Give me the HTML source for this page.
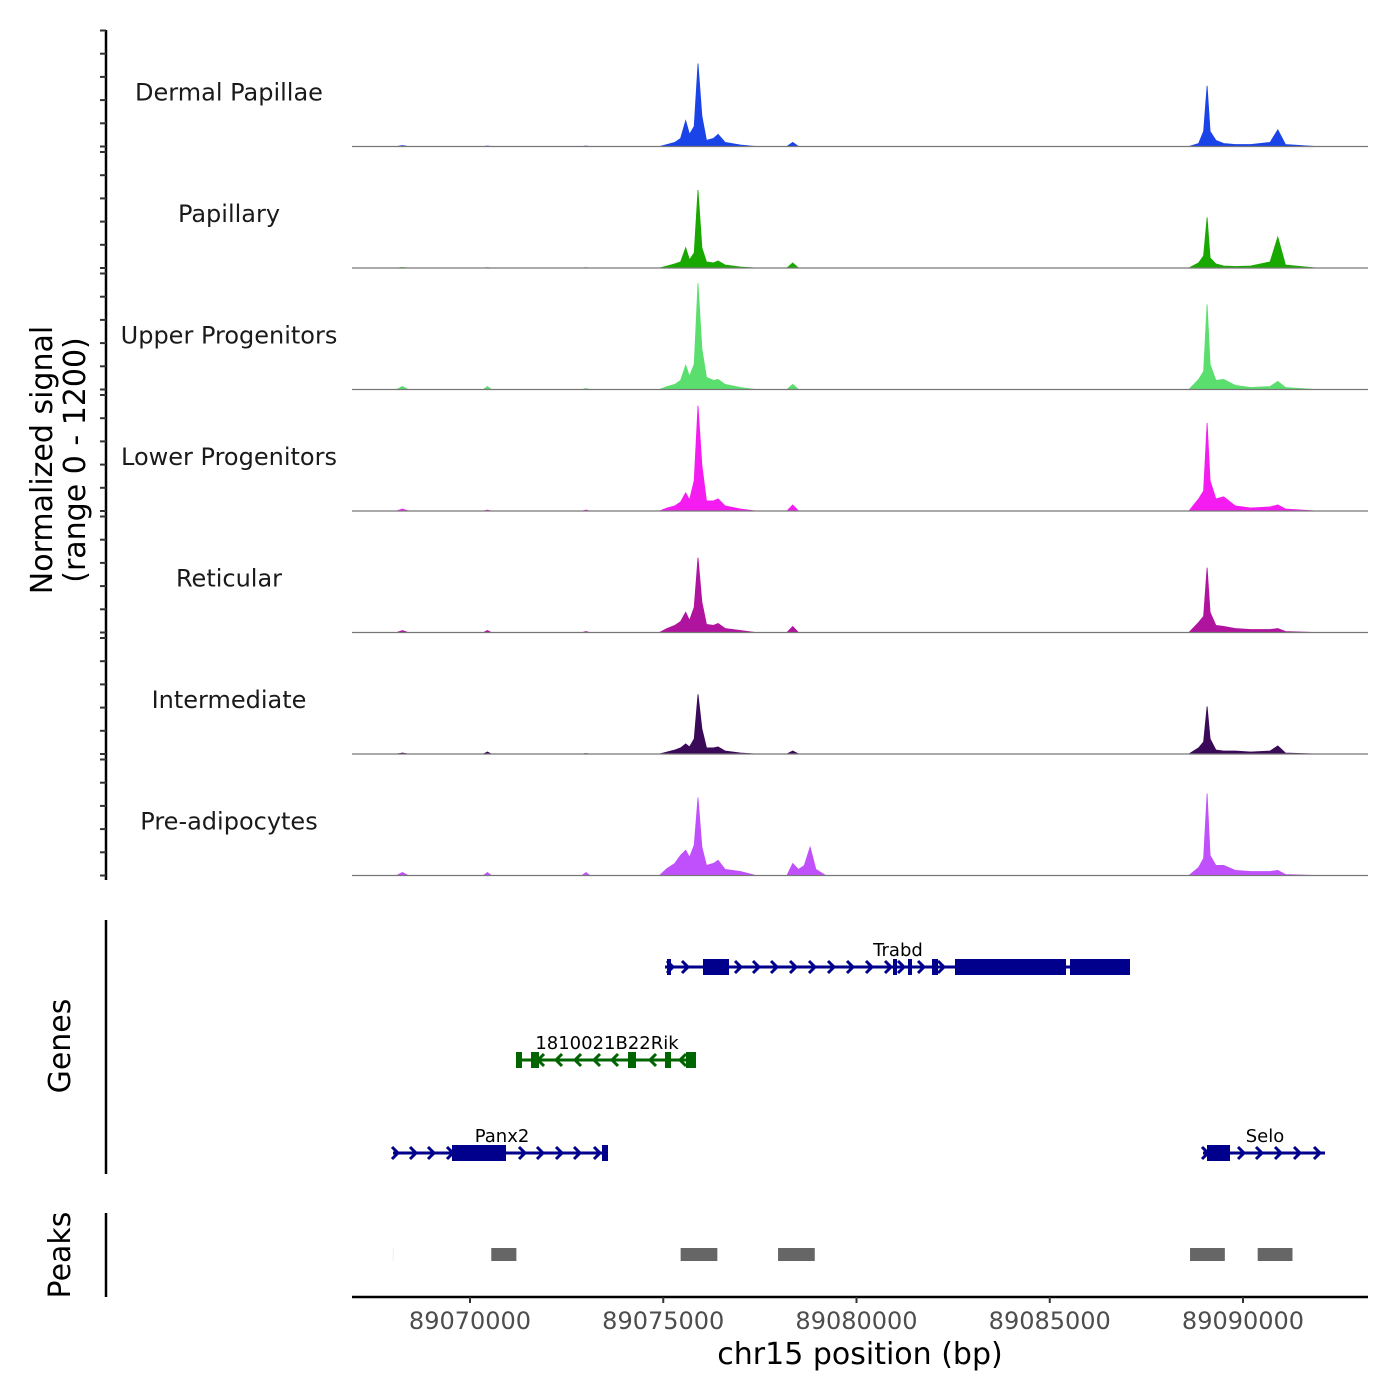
<!DOCTYPE html>
<html><head><meta charset="utf-8"><style>
html,body{margin:0;padding:0;background:#fff;}
svg{display:block;font-family:"DejaVu Sans","Liberation Sans",sans-serif;}
</style></head><body>
<svg id="chart" width="1400" height="1400" viewBox="0 0 1400 1400"></svg>
<script>
// ---- data ----
const trackNames = ["Dermal Papillae","Papillary","Upper Progenitors","Lower Progenitors","Reticular","Intermediate","Pre-adipocytes"];
const trackColors = ["#1a44e8","#18a800","#5ade6e","#f41cf0","#b0149e","#3a0a58","#c050fc"];
// positions in kb offset from 89070000
const binPos = [-1.9,-1.75,-1.6,0.35,0.45,0.55,2.9,3.0,3.1,4.9,5.1,5.3,5.45,5.58,5.68,5.8,5.9,6.0,6.12,6.3,6.42,6.6,7.0,7.4,8.2,8.35,8.5,8.65,8.8,8.95,9.2,18.6,18.85,18.98,19.07,19.15,19.3,19.5,19.8,20.2,20.7,20.9,21.1,21.9];
const sigDermal = [0,10,0,0,5,0,0,5,0,0,20,40,80,255,120,200,820,300,60,80,120,40,15,0,0,40,0,0,0,0,0,0,30,150,600,150,60,30,20,20,40,165,20,0];
const sigPapillary = [0,5,0,0,3,0,0,3,0,0,20,40,60,200,80,150,770,200,60,50,70,30,10,0,0,50,0,0,0,0,0,0,50,120,500,100,40,20,15,20,60,305,30,0];
const sigUpper = [0,30,0,0,30,0,0,10,0,0,30,50,90,240,130,250,1050,400,120,90,100,50,20,0,0,50,0,0,0,0,0,0,100,180,840,250,90,100,40,20,30,80,20,0];
const sigLower = [0,20,0,0,10,0,0,10,0,0,30,50,90,180,110,300,1040,450,100,100,120,50,20,0,0,60,0,0,0,0,0,0,120,200,870,300,120,140,50,30,40,60,20,0];
const sigReticular = [0,20,0,0,20,0,0,10,0,0,40,70,110,200,120,250,740,300,80,70,90,40,20,0,0,60,0,0,0,0,0,0,100,160,640,200,70,60,40,30,30,40,10,0];
const sigIntermediate = [0,10,0,0,20,0,0,5,0,0,20,40,60,100,70,150,590,250,60,60,70,30,10,0,0,30,0,0,0,0,0,0,60,120,470,150,40,30,30,20,30,80,10,0];
const sigPre = [0,30,0,0,30,0,0,30,0,0,70,120,200,250,180,300,770,280,100,120,150,60,40,0,0,120,60,100,280,60,0,0,80,170,810,200,100,100,50,40,40,50,10,0];
const signals = [sigDermal,sigPapillary,sigUpper,sigLower,sigReticular,sigIntermediate,sigPre];
const xTicks = [89070000,89075000,89080000,89085000,89090000];
const peakStarts = [89068000,89070550,89075450,89077970,89088630,89090380];
const peakEnds = [89068020,89071200,89076400,89078920,89089530,89091280];

// ---- scales ----
const NS="http://www.w3.org/2000/svg";
const svg=document.getElementById('chart');
function xs(bp){return 470+(bp-89070000)*0.03865;}
function xk(kb){return xs(89070000+kb*1000);}
const trackH=121.5, firstBase=146.5, yPer=121.5/1200;
function mk(tag,attrs,parent){const e=document.createElementNS(NS,tag);for(const k in attrs)e.setAttribute(k,attrs[k]);(parent||svg).appendChild(e);return e;}

const ax=mk('line',{x1:106,y1:30,x2:106,y2:880,stroke:'#000','stroke-width':2.5});

for(let t=0;t<7;t++){
  const base=firstBase+t*trackH;
  for(let k=0;k<6;k++){
    const y=base-k*23.2;
    const tk=mk('line',{x1:100,y1:y,x2:106,y2:y,stroke:'#333','stroke-width':2});
    
  }
}

for(let t=0;t<7;t++){
  const base=firstBase+t*trackH;
  const g=mk('g',{});
  
  
  let d='M'+xk(binPos[0])+','+base;
  for(let i=0;i<binPos.length;i++){d+=' L'+xk(binPos[i]).toFixed(1)+','+(base-signals[t][i]*yPer).toFixed(1);}
  d+=' L'+xk(binPos[binPos.length-1])+','+base+' Z';
  const a=mk('path',{d:d,fill:trackColors[t],stroke:trackColors[t],'stroke-width':0.8},g);
  
  const bl=mk('line',{x1:352,y1:base,x2:1368,y2:base,stroke:'#777','stroke-width':1.2},g);
  
  const lab=mk('text',{x:229,y:base-46,'text-anchor':'middle','font-size':24,fill:'#1a1a1a'},g);
  lab.textContent=trackNames[t];
  
}

const yt=mk('text',{transform:'translate(52,460) rotate(-90)','text-anchor':'middle','font-size':30,fill:'#000'});
yt.textContent='Normalized signal';
const yt2=mk('text',{transform:'translate(85,460) rotate(-90)','text-anchor':'middle','font-size':30,fill:'#000'});
yt2.textContent='(range 0 - 1200)';

const ga=mk('line',{x1:106,y1:920,x2:106,y2:1174,stroke:'#000','stroke-width':2.5});

const gt=mk('text',{transform:'translate(70,1046) rotate(-90)','text-anchor':'middle','font-size':30});
gt.textContent='Genes';

function gene(name,color,y,x1,x2,exons,dir,lx,arrows){
  const g=mk('g',{});
  
  
  mk('line',{x1:x1,y1:y,x2:x2,y2:y,stroke:color,'stroke-width':3},g);
  arrows.forEach(ax=>{
    const s=dir>0?-1:1;
    mk('polyline',{points:(ax+s*6)+','+(y-6)+' '+ax+','+y+' '+(ax+s*6)+','+(y+6),fill:'none',stroke:color,'stroke-width':3},g);
  });
  exons.forEach(e=>{mk('rect',{x:e[0],y:y-8,width:e[1]-e[0],height:16,fill:color},g);});
  const tx=mk('text',{x:lx,y:y-11,'text-anchor':'middle','font-size':18,fill:'#000'},g);
  tx.textContent=name;
  
}
gene('Trabd','#00008c',967,665,1130,[[667,671],[703,729],[893,897],[908,912],[932,938],[955,1066],[1070,1130]],1,898,[673,688,741,759,777,796,815,834,853,872,891,904,924,944]);
gene('1810021B22Rik','#006400',1060,518,696,[[516,522],[531,539],[628,636],[665,671],[686,696]],-1,607,[538,556,575,594,612,650,680]);
gene('Panx2','#00008c',1153,393,608,[[452,506],[602,608]],1,502,[398,416,434,453,525,543,562,580,600]);
gene('Selo','#00008c',1153,1203,1325,[[1207,1230]],1,1265,[1208,1244,1262,1281,1300,1320]);

const pa=mk('line',{x1:106,y1:1213,x2:106,y2:1297,stroke:'#000','stroke-width':2.5});

const pt=mk('text',{transform:'translate(70,1255) rotate(-90)','text-anchor':'middle','font-size':30});
pt.textContent='Peaks';
for(let i=0;i<peakStarts.length;i++){
  const r=mk('rect',{x:xs(peakStarts[i]),y:1248,width:Math.max(1,xs(peakEnds[i])-xs(peakStarts[i])),height:13,fill:i==0?'#eee':'#666'});
  
}

const xa=mk('line',{x1:352,y1:1297,x2:1368,y2:1297,stroke:'#000','stroke-width':2.5});

xTicks.forEach(v=>{
  const x=xs(v);
  const tk=mk('line',{x1:x,y1:1297,x2:x,y2:1303,stroke:'#333','stroke-width':2});
  
  const tl=mk('text',{x:x,y:1329,'text-anchor':'middle','font-size':24,fill:'#4d4d4d'});
  tl.textContent=v;
});
const xt=mk('text',{x:860,y:1364,'text-anchor':'middle','font-size':30,fill:'#000'});
xt.textContent='chr15 position (bp)';
</script>
</body></html>
